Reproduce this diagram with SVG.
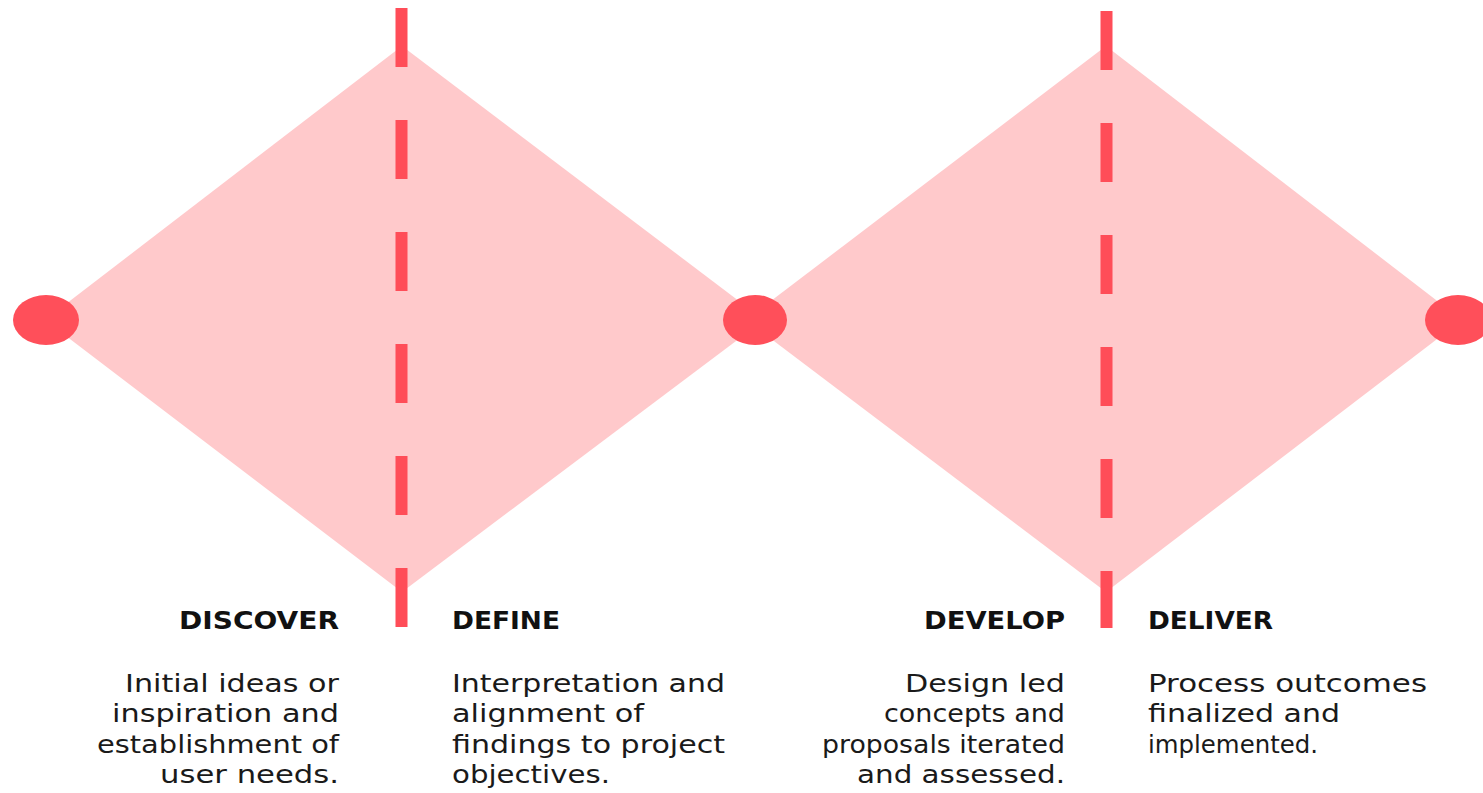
<svg xmlns="http://www.w3.org/2000/svg" width="1483" height="793" viewBox="0 0 1483 793">
  <style>
    .diamond { fill: #FFC9CB; }
    .divider { stroke: #FF4D58; stroke-width: 12; stroke-dasharray: 59 53; fill: none; }
    .node-dot { fill: #FF4F5A; }
    .title { font-family: "DejaVu Sans", "Liberation Sans", sans-serif; font-weight: bold; font-size: 25px; fill: #111; }
    .body { font-family: "DejaVu Sans", "Liberation Sans", sans-serif; font-size: 25px; fill: #1a1a1a; }
  </style>
  <rect width="1483" height="793" fill="#FFFFFF"/>

  <!-- the two diamonds -->
  <g id="diamond-problem">
    <polygon class="diamond" points="45,320 402,46 764,320 402,592"/>
  </g>
  <g id="diamond-solution">
    <polygon class="diamond" points="746,320 1106,46 1462,320 1106,592"/>
  </g>

  <!-- dashed dividers and points -->
  <g id="connectors">
    <line class="divider" x1="401.5" y1="8" x2="401.5" y2="627"/>
    <line class="divider" x1="1106.5" y1="11" x2="1106.5" y2="628"/>
  </g>
  <g id="point-start"><ellipse class="node-dot" cx="46" cy="320" rx="33" ry="25"/></g>
  <g id="point-middle"><ellipse class="node-dot" cx="755" cy="320" rx="32" ry="25"/></g>
  <g id="point-end"><ellipse class="node-dot" cx="1458" cy="320" rx="33" ry="25"/></g>

  <!-- phase labels -->
  <g id="discover">
    <text class="title" x="179" y="629" textLength="160" lengthAdjust="spacingAndGlyphs">DISCOVER</text>
    <text class="body" x="125" y="692" textLength="214" lengthAdjust="spacingAndGlyphs">Initial ideas or</text>
    <text class="body" x="112" y="722" textLength="227" lengthAdjust="spacingAndGlyphs">inspiration and</text>
    <text class="body" x="97" y="753" textLength="242" lengthAdjust="spacingAndGlyphs">establishment of</text>
    <text class="body" x="160" y="783" textLength="179" lengthAdjust="spacingAndGlyphs">user needs.</text>
  </g>
  <g id="define">
    <text class="title" x="452" y="629" textLength="108" lengthAdjust="spacingAndGlyphs">DEFINE</text>
    <text class="body" x="452" y="692" textLength="273" lengthAdjust="spacingAndGlyphs">Interpretation and</text>
    <text class="body" x="452" y="722" textLength="192" lengthAdjust="spacingAndGlyphs">alignment of</text>
    <text class="body" x="452" y="753" textLength="273" lengthAdjust="spacingAndGlyphs">findings to project</text>
    <text class="body" x="452" y="783" textLength="158" lengthAdjust="spacingAndGlyphs">objectives.</text>
  </g>
  <g id="develop">
    <text class="title" x="924" y="629" textLength="141" lengthAdjust="spacingAndGlyphs">DEVELOP</text>
    <text class="body" x="905" y="692" textLength="160" lengthAdjust="spacingAndGlyphs">Design led</text>
    <text class="body" x="884" y="722" textLength="181" lengthAdjust="spacingAndGlyphs">concepts and</text>
    <text class="body" x="822" y="753" textLength="243" lengthAdjust="spacingAndGlyphs">proposals iterated</text>
    <text class="body" x="857" y="783" textLength="208" lengthAdjust="spacingAndGlyphs">and assessed.</text>
  </g>
  <g id="deliver">
    <text class="title" x="1148" y="629" textLength="125" lengthAdjust="spacingAndGlyphs">DELIVER</text>
    <text class="body" x="1148" y="692" textLength="279" lengthAdjust="spacingAndGlyphs">Process outcomes</text>
    <text class="body" x="1148" y="722" textLength="192" lengthAdjust="spacingAndGlyphs">finalized and</text>
    <text class="body" x="1148" y="753" textLength="170" lengthAdjust="spacingAndGlyphs">implemented.</text>
  </g>
</svg>
